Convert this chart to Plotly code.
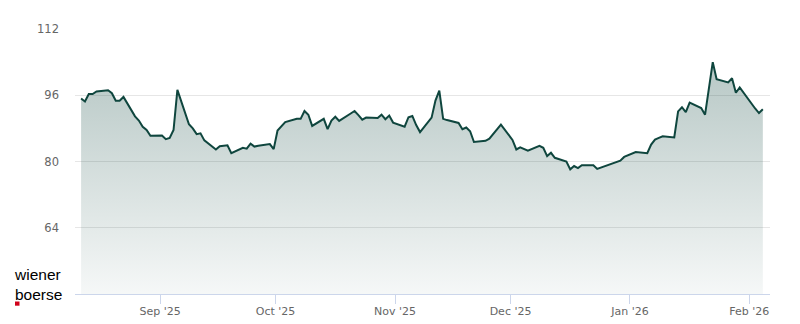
import pandas as pd
import plotly.graph_objects as go

dates = [
    "2025-08-11", "2025-08-12", "2025-08-13", "2025-08-14", "2025-08-15",
    "2025-08-18", "2025-08-19", "2025-08-20", "2025-08-21", "2025-08-22",
    "2025-08-25", "2025-08-26", "2025-08-27", "2025-08-28", "2025-08-29",
    "2025-09-01", "2025-09-02", "2025-09-03", "2025-09-04", "2025-09-05",
    "2025-09-08", "2025-09-09", "2025-09-10", "2025-09-11", "2025-09-12",
    "2025-09-15", "2025-09-16", "2025-09-17", "2025-09-18", "2025-09-19",
    "2025-09-22", "2025-09-23", "2025-09-24", "2025-09-25", "2025-09-26",
    "2025-09-29", "2025-09-30", "2025-10-01", "2025-10-02", "2025-10-03",
    "2025-10-06", "2025-10-07", "2025-10-08", "2025-10-09", "2025-10-10",
    "2025-10-13", "2025-10-14", "2025-10-15", "2025-10-16", "2025-10-17",
    "2025-10-20", "2025-10-21", "2025-10-22", "2025-10-23", "2025-10-24",
    "2025-10-27", "2025-10-28", "2025-10-29", "2025-10-30", "2025-10-31",
    "2025-11-03", "2025-11-04", "2025-11-05", "2025-11-06", "2025-11-07",
    "2025-11-10", "2025-11-11", "2025-11-12", "2025-11-13", "2025-11-14",
    "2025-11-17", "2025-11-18", "2025-11-19", "2025-11-20", "2025-11-21",
    "2025-11-24", "2025-11-25", "2025-11-26", "2025-11-27", "2025-11-28",
    "2025-12-01", "2025-12-02", "2025-12-03", "2025-12-04", "2025-12-05",
    "2025-12-08", "2025-12-09", "2025-12-10", "2025-12-11", "2025-12-12",
    "2025-12-15", "2025-12-16", "2025-12-17", "2025-12-18", "2025-12-19",
    "2025-12-22", "2025-12-23", "2025-12-29", "2025-12-30",
    "2026-01-02", "2026-01-05", "2026-01-06", "2026-01-07", "2026-01-08", "2026-01-09",
    "2026-01-12", "2026-01-13", "2026-01-14", "2026-01-15", "2026-01-16",
    "2026-01-19", "2026-01-20", "2026-01-21", "2026-01-22", "2026-01-23",
    "2026-01-26", "2026-01-27", "2026-01-28", "2026-01-29", "2026-01-30",
    "2026-02-02", "2026-02-03", "2026-02-04",
]

prices = [
    95.2, 94.5, 96.3, 96.3, 96.9,
    97.2, 96.5, 94.7, 94.7, 95.6,
    90.9, 89.9, 88.4, 87.6, 86.2,
    86.3, 85.4, 85.7, 87.6, 97.3,
    89.0, 88.0, 86.6, 86.8, 85.1,
    82.9, 83.7, 83.8, 83.9, 82.0,
    83.3, 83.1, 84.3, 83.6, 83.8,
    84.2, 83.0, 87.5, 88.6, 89.5,
    90.3, 90.3, 92.2, 91.3, 88.6,
    90.3, 87.8, 89.9, 90.8, 89.8,
    91.6, 92.2, 91.2, 90.1, 90.6,
    90.5, 91.3, 90.2, 91.1, 89.4,
    88.4, 90.7, 91.0, 88.8, 87.1,
    90.6, 94.7, 97.1, 90.3, 90.0,
    89.3, 87.8, 88.2, 87.3, 84.7,
    85.0, 85.5, 86.6, 87.8, 88.9,
    85.2, 82.9, 83.4, 82.9, 82.6,
    83.8, 83.3, 81.3, 82.1, 80.9,
    80.0, 78.1, 78.9, 78.4, 79.1,
    79.1, 78.2, 80.2, 81.1,
    82.3, 82.0, 84.1, 85.3, 85.7, 86.1,
    85.8, 92.1, 93.1, 91.9, 94.2,
    92.9, 91.3, 97.7, 104.0, 99.9,
    99.1, 100.1, 96.6, 97.9, 96.6,
    92.8, 91.7, 92.6,
]

tick_dates = ["2025-09-01", "2025-10-01", "2025-11-01", "2025-12-01", "2026-01-01", "2026-02-01"]
tick_labels = ["Sep '25", "Oct '25", "Nov '25", "Dec '25", "Jan '26", "Feb '26"]
y_ticks = [64, 80, 96, 112]

# daily closes plotted at mid-day
x = pd.to_datetime(dates) + pd.Timedelta(hours=12)

LINE = "#0f463e"
L, R, T, B = 75, 30, 29, 30
PW, PH = 800 - L - R, 324 - T - B

fig = go.Figure()
fig.add_trace(go.Scatter(
    x=x, y=prices, mode="lines",
    line=dict(color=LINE, width=2),
    fill="tozeroy",
    fillgradient=dict(
        type="vertical",
        start=48, stop=104,
        colorscale=[[0, "rgba(15,70,62,0.04)"], [1, "rgba(15,70,62,0.30)"]],
    ),
    hoverinfo="skip",
    showlegend=False,
))

fig.update_layout(
    width=800, height=324,
    margin=dict(l=L, r=R, t=T, b=B, autoexpand=False),
    paper_bgcolor="white", plot_bgcolor="white",
    font=dict(family="DejaVu Sans, sans-serif", size=11, color="#666666"),
    xaxis=dict(
        type="date", automargin=False,
        range=["2025-08-09 22:00", "2026-02-06 08:40"],
        tickvals=pd.to_datetime(tick_dates), ticktext=tick_labels,
        showgrid=False, zeroline=False,
        showline=True, linecolor="#ccd6eb", linewidth=1,
        ticks="outside", ticklen=9, tickcolor="#ccd6eb", tickwidth=1,
        ticklabelstandoff=-2,
        tickfont=dict(size=11, color="#666666"),
    ),
    yaxis=dict(
        range=[48, 112], automargin=False,
        tickvals=y_ticks,
        showgrid=True, gridcolor="#e6e6e6", gridwidth=1,
        zeroline=False, showline=False,
        ticks="", ticklabelstandoff=15,
        tickfont=dict(size=11.5, color="#666666"),
    ),
)

# wiener boerse logo
logo_font = dict(family="Liberation Sans, Arial, sans-serif", size=15.5, color="#000000")
fig.add_annotation(text="wiener<br>boerse", xref="paper", yref="paper",
                   x=(12 - L) / PW, y=(294 - 284) / PH,
                   xanchor="left", yanchor="middle", align="left",
                   showarrow=False, font=logo_font)
fig.add_shape(type="rect", xref="paper", yref="paper",
              x0=(15 - L) / PW, x1=(19.5 - L) / PW,
              y0=(294 - 305.7) / PH, y1=(294 - 301.5) / PH,
              fillcolor="#d0021b", line=dict(width=0), layer="above")

fig.write_html("out.html")
